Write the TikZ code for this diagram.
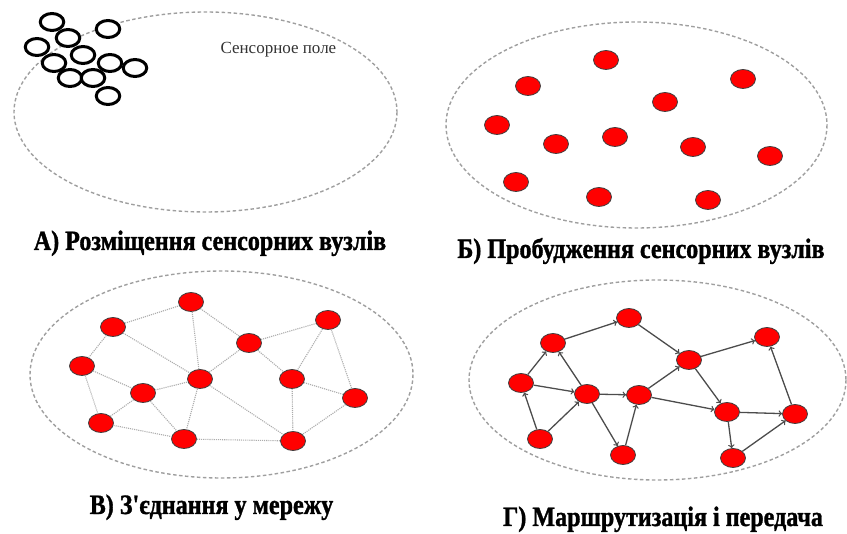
\documentclass[tikz,border=0pt]{standalone}
\usepackage{fontspec}
\setmainfont{Liberation Serif}
\newfontfamily\capfont[FakeStretch=0.86,FakeBold=1.2]{Liberation Serif}
\usetikzlibrary{shapes.geometric}
\begin{document}
\begin{tikzpicture}[x=1pt,y=-1pt,
    field/.style={gray!75,line width=1.4pt,dash pattern=on 3.5pt off 2.5pt},
    idle/.style={draw=black,fill=white,line width=3pt,ellipse,minimum width=23.5pt,minimum height=17pt,inner sep=0pt},
    awake/.style={draw=black!75,fill=red,ellipse,line width=0.8pt,minimum width=25pt,minimum height=19pt,inner sep=0pt},
    link/.style={gray!65,line width=1.1pt,densely dotted},
    hop/.style={->,black!70,line width=1.3pt},
    caption/.style={font=\capfont\bfseries\fontsize{28}{28}\selectfont,anchor=base}]
    \useasboundingbox (0,0) rectangle (847,534);
    \begin{scope}
        \draw[field] (205.5,112) ellipse (191.5 and 100);
        \node[gray!40!black,anchor=base west,font=\fontsize{17}{17}\selectfont] (fieldlabel) at (217,54) {Сенсорное поле};
        \node[idle] (a1) at (52,22) {};   \node[idle] (a2) at (108,29) {};
        \node[idle] (a3) at (68,38) {};   \node[idle] (a4) at (37,47) {};
        \node[idle] (a5) at (83,55) {};   \node[idle] (a6) at (54,63) {};
        \node[idle] (a7) at (110,63) {};  \node[idle] (a8) at (135,68) {};
        \node[idle] (a9) at (70,78) {};   \node[idle] (a10) at (93,78) {};
        \node[idle] (a11) at (108,96) {};
        \node[caption] (capA) at (210,250) {А) Розміщення сенсорних вузлів};
    \end{scope}
    \begin{scope}
        \draw[field] (636.5,125) ellipse (190.5 and 103);
        \node[awake] (b1) at (606,60) {};   \node[awake] (b2) at (528,86) {};
        \node[awake] (b3) at (743,79) {};   \node[awake] (b4) at (665,102) {};
        \node[awake] (b5) at (497,125) {};  \node[awake] (b6) at (556,144) {};
        \node[awake] (b7) at (615,137) {};  \node[awake] (b8) at (693,147) {};
        \node[awake] (b9) at (770,156) {};  \node[awake] (b10) at (516,182) {};
        \node[awake] (b11) at (599,197) {}; \node[awake] (b12) at (708,200) {};
        \node[caption] (capB) at (641,258) {Б) Пробудження сенсорних вузлів};
    \end{scope}
    \begin{scope}
        \draw[field] (221.5,374.5) ellipse (191.5 and 103.5);
        \node[awake] (c1) at (191,302) {};  \node[awake] (c2) at (113,327) {};
        \node[awake] (c3) at (328,320) {};  \node[awake] (c4) at (249,343) {};
        \node[awake] (c5) at (82,366) {};   \node[awake] (c6) at (200,379) {};
        \node[awake] (c7) at (292,379) {};  \node[awake] (c8) at (143,393) {};
        \node[awake] (c9) at (355,398) {};  \node[awake] (c10) at (101,423) {};
        \node[awake] (c11) at (184,439) {}; \node[awake] (c12) at (293,441) {};
        \draw[link] (c2) -- (c1) (c1) -- (c6) (c1) -- (c4) (c2) -- (c6)
            (c2) -- (c5) (c5) -- (c8) (c5) -- (c10) (c8) -- (c6)
            (c8) -- (c10) (c8) -- (c11) (c6) -- (c4) (c6) -- (c11)
            (c6) -- (c12) (c4) -- (c3) (c4) -- (c7) (c3) -- (c7)
            (c3) -- (c9) (c7) -- (c9) (c7) -- (c12) (c9) -- (c12)
            (c10) -- (c11) (c11) -- (c12);
        \node[caption] (capC) at (211.5,514) {В) З'єднання у мережу};
    \end{scope}
    \begin{scope}
        \draw[field] (657.5,380) ellipse (188.5 and 100);
        \node[awake] (d1) at (553,343) {};  \node[awake] (d2) at (629,318) {};
        \node[awake] (d3) at (767,337) {};  \node[awake] (d4) at (689,360) {};
        \node[awake] (d5) at (521,383) {};  \node[awake] (d6) at (587,394) {};
        \node[awake] (d7) at (639,395) {};  \node[awake] (d8) at (727,412) {};
        \node[awake] (d9) at (795,414) {};  \node[awake] (d10) at (540,439) {};
        \node[awake] (d11) at (623,455) {}; \node[awake] (d12) at (733,458) {};
        \draw[hop] (d1) -- (d2);   \draw[hop] (d2) -- (d4);
        \draw[hop] (d4) -- (d3);   \draw[hop] (d5) -- (d1);
        \draw[hop] (d5) -- (d6);   \draw[hop] (d6) -- (d1);
        \draw[hop] (d6) -- (d7);   \draw[hop] (d6) -- (d11);
        \draw[hop] (d10) -- (d5);  \draw[hop] (d10) -- (d6);
        \draw[hop] (d11) -- (d7);  \draw[hop] (d7) -- (d4);
        \draw[hop] (d7) -- (d8);   \draw[hop] (d4) -- (d8);
        \draw[hop] (d8) -- (d9);   \draw[hop] (d8) -- (d12);
        \draw[hop] (d12) -- (d9);  \draw[hop] (d9) -- (d3);
        \node[caption] (capD) at (663,526) {Г) Маршрутизація і передача};
    \end{scope}
\end{tikzpicture}
\end{document}
